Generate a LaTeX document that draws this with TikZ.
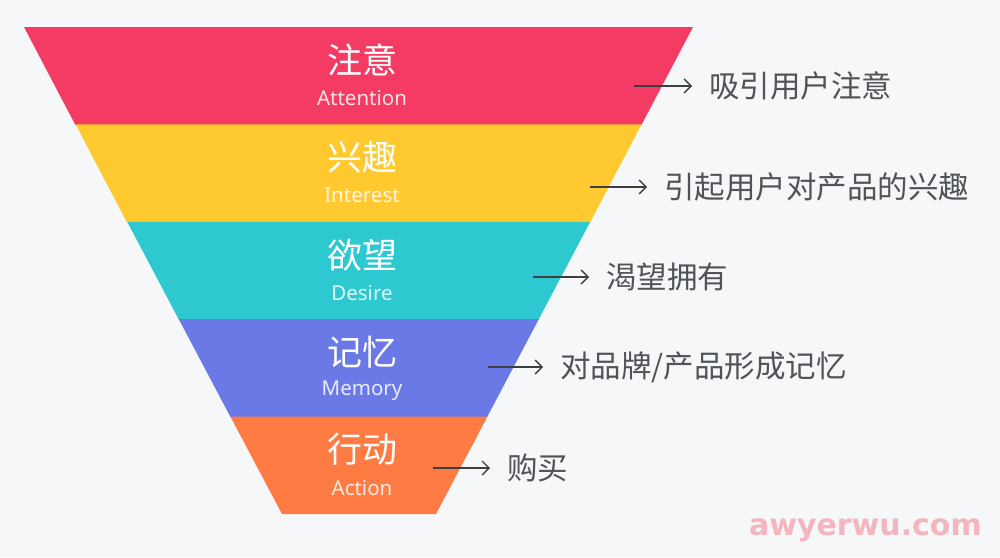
\documentclass[tikz,border=0pt]{standalone}
\usepackage{fontspec}
\setmainfont{Noto Sans}
\newfontfamily\cjk{Noto Sans CJK SC}
\newfontfamily\markfont{DejaVu Sans}
\usetikzlibrary{arrows.meta}

\definecolor{bgcol}{HTML}{F5F7F9}
\definecolor{attcol}{HTML}{F43B63}
\definecolor{intcol}{HTML}{FFC92F}
\definecolor{descol}{HTML}{2DC8D0}
\definecolor{memcol}{HTML}{6A79E6}
\definecolor{actcol}{HTML}{FE7B44}
\definecolor{txtcol}{HTML}{505357}
\definecolor{arrcol}{HTML}{3C3F44}
\definecolor{markcol}{HTML}{F4B5BF}

\tikzset{
  stagetitle/.style={text=white, inner sep=0pt, font=\cjk\fontsize{35}{38}\selectfont},
  stagesub/.style={text=white, text opacity=0.85, inner sep=0pt, font=\fontsize{20.5}{24}\selectfont},
  stagenote/.style={text=txtcol, anchor=west, inner xsep=17pt, inner ysep=0pt, font=\cjk\fontsize{30.5}{33}\selectfont},
  pointer/.style={draw=arrcol, line width=1.3pt, -{Straight Barb[length=7pt,width=14pt]}}
}

\begin{document}
\begin{tikzpicture}[x=1pt, y=-1pt]

\newcommand\MID{362}
\newcommand\TOP{27}
\newcommand\BAND{97.4}

\fill[bgcol] (0,0) rectangle (1000,557);
\useasboundingbox (0,0) rectangle (1000,557);

%% funnel bands
\fill[attcol] (24,27) -- (693,27) -- (641.4,125) -- (75.4,125) -- cycle;
\fill[intcol] (75.6,124.4) -- (641.6,124.4) -- (590,222.4) -- (127,222.4) -- cycle;
\fill[descol] (127.2,221.8) -- (590.2,221.8) -- (538.4,319.8) -- (179,319.8) -- cycle;
\fill[memcol] (178.8,319.2) -- (538.8,319.2) -- (487,417.2) -- (230.6,417.2) -- cycle;
\fill[actcol] (230.4,416.6) -- (487.4,416.6) -- (436,514) -- (282,514) -- cycle;

%% stage names
\node[stagetitle] (t1) at (\MID, \TOP + 0*\BAND + 33) {注意};
\node[stagesub]   (s1) at (\MID, \TOP + 0*\BAND + 71) {Attention};
\node[stagetitle] (t2) at (\MID, \TOP + 1*\BAND + 33) {兴趣};
\node[stagesub]   (s2) at (\MID, \TOP + 1*\BAND + 71) {Interest};
\node[stagetitle] (t3) at (\MID, \TOP + 2*\BAND + 33) {欲望};
\node[stagesub]   (s3) at (\MID, \TOP + 2*\BAND + 71) {Desire};
\node[stagetitle] (t4) at (\MID, \TOP + 3*\BAND + 33) {记忆};
\node[stagesub]   (s4) at (\MID, \TOP + 3*\BAND + 71) {Memory};
\node[stagetitle] (t5) at (\MID, \TOP + 4*\BAND + 33) {行动};
\node[stagesub]   (s5) at (\MID, \TOP + 4*\BAND + 71) {Action};

%% notes on the right
\coordinate (a1) at (634,86);
\coordinate (a2) at (590,187);
\coordinate (a3) at (533,277);
\coordinate (a4) at (488,367);
\coordinate (a5) at (433,468);

\node[stagenote] (n1) at (692,86)  {吸引用户注意};
\node[stagenote] (n2) at (647,187) {引起用户对产品的兴趣};
\node[stagenote] (n3) at (589,277) {渴望拥有};
\node[stagenote] (n4) at (543,367) {对品牌/产品形成记忆};
\node[stagenote] (n5) at (490,468) {购买};

\draw[pointer] (a1) -- (n1);
\draw[pointer] (a2) -- (n2);
\draw[pointer] (a3) -- (n3);
\draw[pointer] (a4) -- (n4);
\draw[pointer] (a5) -- (n5);

%% watermark
\node[text=markcol, font=\markfont\bfseries\fontsize{30}{32}\selectfont, anchor=east, inner sep=0pt] (wm) at (982,530) {awyerwu.com};

\end{tikzpicture}
\end{document}
